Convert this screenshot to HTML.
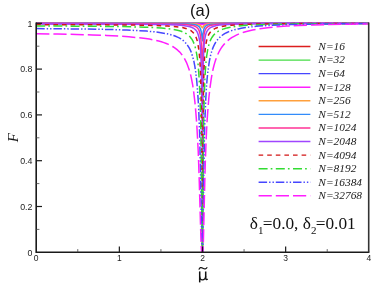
<!DOCTYPE html>
<html><head><meta charset="utf-8"><title>chart</title>
<style>html,body{margin:0;padding:0;background:#fff}svg{display:block;will-change:transform;opacity:0.999}</style></head>
<body><svg width="374" height="286" viewBox="0 0 374 286">
<rect width="374" height="286" fill="#fff"/>
<defs><clipPath id="c"><rect x="36.2" y="21.5" width="333.2" height="231.6"/></clipPath></defs>
<g clip-path="url(#c)" fill="none" stroke-width="1.5" stroke-linejoin="round">
<path d="M36.2 23.3L368.8 23.3" stroke="#dc1e1e"/>
<path d="M36.2 23.3L169.9 23.3L202.5 23.4L234.0 23.3L368.8 23.3" stroke="#46dc46"/>
<path d="M36.2 23.3L177.8 23.4L193.4 23.4L202.5 23.6L210.7 23.4L226.6 23.3L368.8 23.3" stroke="#4646ff"/>
<path d="M36.2 23.3L148.7 23.4L183.9 23.4L191.7 23.5L196.4 23.7L199.4 23.9L202.5 24.5L205.0 23.9L207.8 23.7L212.5 23.5L220.3 23.4L256.4 23.3L368.8 23.3" stroke="#ff1eff"/>
<path d="M36.2 23.4L156.6 23.4L177.5 23.5L188.6 23.7L192.2 23.8L194.9 24.0L196.9 24.2L198.4 24.6L199.6 25.0L200.5 25.6L201.2 26.2L202.2 27.6L202.5 27.8L203.4 26.3L204.0 25.6L204.8 25.0L205.9 24.5L207.3 24.2L209.3 23.9L211.9 23.7L215.5 23.6L227.0 23.4L248.5 23.4L368.8 23.3" stroke="#ffa03c"/>
<path d="M36.2 23.5L123.5 23.5L163.3 23.6L174.7 23.7L182.5 23.8L188.1 24.0L192.1 24.3L195.0 24.8L196.2 25.1L197.1 25.4L197.9 25.8L198.7 26.3L199.3 26.9L199.8 27.6L200.2 28.4L200.6 29.3L200.9 30.5L201.2 31.7L201.7 34.4L202.3 39.8L202.5 40.7L203.0 34.6L203.4 31.6L203.6 30.2L203.9 29.1L204.2 28.2L204.6 27.4L205.1 26.7L205.6 26.1L206.3 25.7L207.1 25.2L208.0 24.9L209.1 24.6L212.0 24.2L216.0 23.9L221.8 23.7L229.9 23.6L241.7 23.5L281.9 23.3L368.8 23.3" stroke="#328cfa"/>
<path d="M36.2 23.6L129.1 23.7L152.8 23.8L168.4 24.0L179.0 24.2L186.2 24.6L188.8 24.9L191.0 25.2L192.9 25.6L194.4 26.0L195.7 26.7L196.8 27.4L197.8 28.3L198.5 29.4L199.2 30.8L199.7 32.5L200.2 34.5L200.6 36.9L200.9 39.7L201.2 43.1L201.7 51.7L202.0 62.1L202.5 85.3L202.8 62.3L203.1 50.8L203.4 42.0L203.6 38.7L203.9 36.0L204.2 33.7L204.6 31.8L205.1 30.2L205.7 29.0L206.4 27.9L207.3 27.1L208.3 26.3L209.6 25.8L211.2 25.3L213.0 24.9L215.3 24.6L218.1 24.3L225.5 23.9L236.6 23.7L252.6 23.5L276.5 23.4L368.8 23.3" stroke="#ff3296"/>
<path d="M36.2 24.0L94.8 24.0L131.6 24.2L155.3 24.4L170.6 24.7L176.3 25.0L180.9 25.3L184.6 25.7L187.6 26.2L190.1 26.8L192.2 27.5L193.1 28.0L193.9 28.4L194.6 29.0L195.3 29.6L196.0 30.3L196.6 31.1L197.1 31.9L197.6 32.9L198.4 35.2L199.1 38.0L199.7 41.5L200.2 45.7L200.6 50.8L200.9 57.0L201.2 64.2L201.4 73.1L201.8 96.2L202.1 124.0L202.5 187.4L202.7 124.4L202.9 93.6L203.2 70.5L203.4 61.7L203.6 54.8L203.9 48.9L204.2 44.0L204.7 40.1L205.2 36.8L205.8 34.2L206.6 32.1L207.1 31.2L207.6 30.4L208.1 29.7L208.7 29.0L209.4 28.4L210.1 27.9L210.9 27.4L211.8 27.0L214.0 26.2L216.5 25.6L219.7 25.1L223.6 24.7L228.4 24.4L234.3 24.1L250.1 23.8L274.0 23.5L310.5 23.4L368.8 23.3" stroke="#a046ff"/>
<path d="M36.2 24.6L92.2 24.8L128.3 25.0L141.4 25.2L152.0 25.4L160.7 25.7L167.7 26.0L173.6 26.4L178.4 26.9L182.4 27.6L185.7 28.4L187.1 28.8L188.4 29.3L189.6 29.9L190.7 30.5L191.6 31.2L192.5 32.0L193.3 32.8L194.1 33.7L194.8 34.8L195.4 36.0L196.0 37.3L196.6 38.7L197.1 40.4L197.5 42.2L198.3 46.3L199.0 51.3L199.6 57.5L200.1 64.8L200.5 73.5L200.8 83.0L201.0 94.6L201.5 124.4L201.9 163.6L202.3 239.0L202.4 247.6L202.5 250.8L202.9 160.0L203.1 123.2L203.4 92.2L203.7 80.4L204.0 70.6L204.3 62.3L204.7 55.2L205.2 49.4L205.8 44.7L206.6 40.7L207.0 39.0L207.5 37.5L208.0 36.1L208.6 34.9L209.2 33.7L209.9 32.7L210.6 31.8L211.4 30.9L212.4 30.1L213.4 29.4L214.5 28.8L215.7 28.2L217.1 27.7L218.5 27.2L221.9 26.4L226.1 25.7L231.2 25.2L237.3 24.8L244.6 24.4L253.4 24.1L264.2 23.9L277.4 23.7L313.1 23.5L368.8 23.4" stroke="#d21414" stroke-dasharray="4.6 4"/>
<path d="M36.2 26.0L87.0 26.2L121.6 26.6L134.6 26.9L145.2 27.2L154.1 27.6L161.5 28.1L167.8 28.7L173.1 29.4L177.5 30.3L179.4 30.8L181.2 31.3L182.8 31.9L184.3 32.6L185.7 33.4L187.0 34.2L188.1 35.0L189.2 36.0L190.2 37.0L191.1 38.2L192.0 39.4L192.8 40.8L193.5 42.4L194.2 44.1L194.8 45.9L195.4 47.9L195.9 50.1L196.4 52.5L197.3 58.0L198.1 64.4L198.7 72.1L199.3 81.2L199.7 90.4L200.1 101.3L200.5 113.6L200.8 127.8L201.3 167.6L202.1 244.6L202.2 251.5L202.3 252.2L202.4 252.3L202.5 252.3L202.6 252.2L202.6 251.4L202.7 245.7L203.2 172.0L203.6 130.6L203.8 114.7L204.1 100.9L204.5 88.9L204.9 79.0L205.4 70.0L206.0 62.3L206.7 55.9L207.6 50.5L208.0 48.1L208.6 45.9L209.1 43.9L209.7 42.1L210.4 40.4L211.1 38.9L211.9 37.5L212.8 36.2L213.7 35.0L214.7 33.9L215.9 32.9L217.1 32.0L218.4 31.2L219.8 30.4L221.4 29.7L223.1 29.1L225.0 28.5L227.0 27.9L229.2 27.4L231.6 27.0L237.1 26.2L243.6 25.6L251.2 25.1L260.3 24.7L271.1 24.3L284.0 24.1L299.4 23.8L318.0 23.7L368.8 23.5" stroke="#32dc32" stroke-dasharray="9 3.1 1.7 3.4"/>
<path d="M36.2 28.6L81.9 29.0L99.5 29.3L114.3 29.6L126.9 30.1L137.5 30.6L146.6 31.1L154.3 31.8L160.9 32.7L166.6 33.7L169.1 34.3L171.5 34.9L173.6 35.5L175.6 36.3L177.5 37.1L179.2 37.9L180.8 38.8L182.3 39.9L183.6 40.9L184.9 42.1L186.1 43.4L187.2 44.8L188.2 46.3L189.2 47.9L190.1 49.7L191.0 51.6L191.7 53.7L192.4 55.9L193.1 58.3L193.8 60.9L194.9 66.7L195.9 73.5L196.8 81.4L197.5 90.3L198.1 98.9L198.7 108.9L199.1 120.2L199.6 132.6L200.0 150.0L200.5 170.7L201.8 245.6L201.9 249.7L202.0 251.8L202.2 252.3L202.6 252.3L202.7 252.1L202.8 251.2L202.9 245.3L203.7 177.1L204.1 156.5L204.4 139.0L204.8 123.6L205.3 110.1L205.8 98.5L206.4 88.3L207.1 78.8L208.0 70.6L209.0 63.7L209.5 60.5L210.1 57.6L210.7 54.9L211.4 52.4L212.1 50.1L212.9 47.9L213.8 45.9L214.7 44.0L215.7 42.3L216.8 40.7L218.0 39.2L219.2 37.9L220.5 36.7L221.9 35.5L223.5 34.4L225.1 33.4L227.0 32.5L228.9 31.6L231.0 30.8L233.2 30.1L235.6 29.5L238.3 28.9L241.1 28.3L244.1 27.8L251.0 26.9L258.8 26.1L267.9 25.5L278.6 25.0L291.1 24.6L305.7 24.3L323.1 24.0L343.7 23.8L368.8 23.6" stroke="#4646ff" stroke-dasharray="8.5 2 1.4 2 1.4 1.9"/>
<path d="M36.2 33.7L57.8 34.0L76.4 34.4L92.4 34.9L106.4 35.4L118.3 36.0L128.8 36.8L137.8 37.6L145.7 38.6L149.3 39.1L152.6 39.7L155.8 40.4L158.7 41.1L161.4 41.8L163.9 42.6L166.3 43.5L168.5 44.4L170.6 45.4L172.6 46.5L174.4 47.6L176.1 48.9L177.7 50.2L179.2 51.6L180.6 53.1L181.9 54.7L183.1 56.4L184.3 58.3L185.3 60.2L186.4 62.3L187.3 64.6L188.2 67.0L189.1 69.5L189.9 72.3L190.7 75.2L191.4 78.3L192.7 85.2L193.8 92.9L194.9 101.9L195.8 112.0L196.7 123.2L197.4 135.9L198.2 150.6L198.7 164.1L199.2 179.6L200.8 234.0L201.3 247.3L201.5 250.4L201.7 252.0L201.8 252.2L201.9 252.3L202.7 252.3L202.8 252.3L202.9 252.1L203.0 251.0L203.3 244.5L204.8 181.0L205.3 162.5L205.9 146.2L206.5 131.8L207.2 119.3L208.0 108.2L208.8 98.4L209.9 88.5L211.1 79.9L211.7 76.1L212.4 72.4L213.1 69.0L213.9 65.8L214.7 62.9L215.6 60.0L216.6 57.4L217.6 54.9L218.7 52.5L219.8 50.4L221.0 48.4L222.3 46.5L223.7 44.8L225.1 43.1L226.7 41.5L228.4 40.1L230.2 38.7L232.1 37.4L234.1 36.3L236.3 35.2L238.6 34.1L241.1 33.2L243.7 32.3L246.5 31.5L249.5 30.7L252.6 30.0L256.1 29.4L259.7 28.8L267.6 27.7L276.7 26.8L287.0 26.1L299.0 25.5L312.6 25.0L328.5 24.6L346.9 24.2L368.8 24.0" stroke="#ff1eff" stroke-dasharray="13.2 4"/>
</g>
<g stroke="#1a1a1a" fill="none">
<path d="M36.2 22.5 V252.3 H369.4" stroke-width="1.6" stroke-linejoin="miter"/>
<path d="M368.7 22.5 V252.3" stroke-width="1.6" stroke="#333"/>
<path d="M36.2 206.50 h5.8" stroke-width="1.2"/>
<path d="M36.2 160.70 h5.8" stroke-width="1.2"/>
<path d="M36.2 114.90 h5.8" stroke-width="1.2"/>
<path d="M36.2 69.10 h5.8" stroke-width="1.2"/>
<path d="M36.2 23.30 h5.8" stroke-width="1.2"/>
<path d="M36.2 229.40 h3.2" stroke-width="0.8" stroke="#444"/>
<path d="M36.2 183.60 h3.2" stroke-width="0.8" stroke="#444"/>
<path d="M36.2 137.80 h3.2" stroke-width="0.8" stroke="#444"/>
<path d="M36.2 92.00 h3.2" stroke-width="0.8" stroke="#444"/>
<path d="M36.2 46.20 h3.2" stroke-width="0.8" stroke="#444"/>
<path d="M119.35 252.3 v-5.8" stroke-width="1.2"/>
<path d="M202.50 252.3 v-5.8" stroke-width="1.2"/>
<path d="M285.65 252.3 v-5.8" stroke-width="1.2"/>
<path d="M77.78 252.3 v-3.2" stroke-width="0.8" stroke="#444"/>
<path d="M160.93 252.3 v-3.2" stroke-width="0.8" stroke="#444"/>
<path d="M244.07 252.3 v-3.2" stroke-width="0.8" stroke="#444"/>
<path d="M327.23 252.3 v-3.2" stroke-width="0.8" stroke="#444"/>
</g>
<g font-family="Liberation Sans, sans-serif" fill="#222">
<text x="32.4" y="255.50" font-size="8.8" text-anchor="end">0</text>
<text x="32.4" y="209.70" font-size="8.8" text-anchor="end">0.2</text>
<text x="32.4" y="163.90" font-size="8.8" text-anchor="end">0.4</text>
<text x="32.4" y="118.10" font-size="8.8" text-anchor="end">0.6</text>
<text x="32.4" y="72.30" font-size="8.8" text-anchor="end">0.8</text>
<text x="32.4" y="26.50" font-size="8.8" text-anchor="end">1</text>
<text x="36.20" y="261" font-size="8.5" text-anchor="middle">0</text>
<text x="119.35" y="261" font-size="8.5" text-anchor="middle">1</text>
<text x="202.50" y="261" font-size="8.5" text-anchor="middle">2</text>
<text x="285.65" y="261" font-size="8.5" text-anchor="middle">3</text>
<text x="368.80" y="261" font-size="8.5" text-anchor="middle">4</text>
<text x="200.2" y="15.7" font-size="16.5" text-anchor="middle" fill="#111">(a)</text>
</g>
<g font-family="Liberation Serif, serif" font-style="italic" font-size="11.4" fill="#1a1a1a">
<path d="M258.6 46.50 H310.4" stroke="#dc1e1e" stroke-width="1.4" fill="none"/>
<text x="318.3" y="49.90">N=16</text>
<path d="M258.6 60.08 H310.4" stroke="#46dc46" stroke-width="1.4" fill="none"/>
<text x="318.3" y="63.48">N=32</text>
<path d="M258.6 73.65 H310.4" stroke="#4646ff" stroke-width="1.4" fill="none"/>
<text x="318.3" y="77.05">N=64</text>
<path d="M258.6 87.22 H310.4" stroke="#ff1eff" stroke-width="1.4" fill="none"/>
<text x="318.3" y="90.62">N=128</text>
<path d="M258.6 100.80 H310.4" stroke="#ffa03c" stroke-width="1.4" fill="none"/>
<text x="318.3" y="104.20">N=256</text>
<path d="M258.6 114.38 H310.4" stroke="#328cfa" stroke-width="1.4" fill="none"/>
<text x="318.3" y="117.78">N=512</text>
<path d="M258.6 127.95 H310.4" stroke="#ff3296" stroke-width="1.4" fill="none"/>
<text x="318.3" y="131.35">N=1024</text>
<path d="M258.6 141.52 H310.4" stroke="#a046ff" stroke-width="1.4" fill="none"/>
<text x="318.3" y="144.92">N=2048</text>
<path d="M258.6 155.10 H310.4" stroke="#d21414" stroke-width="1.4" fill="none" stroke-dasharray="4.6 4"/>
<text x="318.3" y="158.50">N=4094</text>
<path d="M258.6 168.68 H310.4" stroke="#32dc32" stroke-width="1.4" fill="none" stroke-dasharray="9 3.1 1.7 3.4"/>
<text x="318.3" y="172.08">N=8192</text>
<path d="M258.6 182.25 H310.4" stroke="#4646ff" stroke-width="1.4" fill="none" stroke-dasharray="8.5 2 1.4 2 1.4 1.9"/>
<text x="318.3" y="185.65">N=16384</text>
<path d="M258.6 195.82 H310.4" stroke="#ff1eff" stroke-width="1.4" fill="none" stroke-dasharray="13.2 4"/>
<text x="318.3" y="199.22">N=32768</text>
</g>
<text x="249.8" y="229.4" font-family="Liberation Serif, serif" font-size="17.3" fill="#111">δ<tspan font-size="11" dy="4.3">1</tspan><tspan dy="-4.3" dx="-0.7">=0.0, δ</tspan><tspan font-size="11" dy="4.3">2</tspan><tspan dy="-4.3" dx="-0.7">=0.01</tspan></text>
<g stroke="#111" fill="none" stroke-linecap="butt"><path d="M199.7 271.4 V282.4" stroke-width="1.5"/><path d="M199.7 276.6 C199.8 279.3 201 280 202.4 279.9 C204.1 279.8 205.5 278.6 205.7 276.2" stroke-width="1.3"/><path d="M205.7 271.4 V277.9 C205.7 279.5 206.5 280 207.7 279" stroke-width="1.5"/><path d="M198.9 269.6 C199.6 267.4 201.2 267.2 202.9 268.2 C204.6 269.2 206.2 269.1 207.2 267.2" stroke-width="1.2"/></g>
<text transform="translate(17.9 137.7) rotate(-90)" font-family="Liberation Serif, serif" font-style="italic" font-size="15" fill="#111" text-anchor="middle">F</text>
</svg></body></html>
